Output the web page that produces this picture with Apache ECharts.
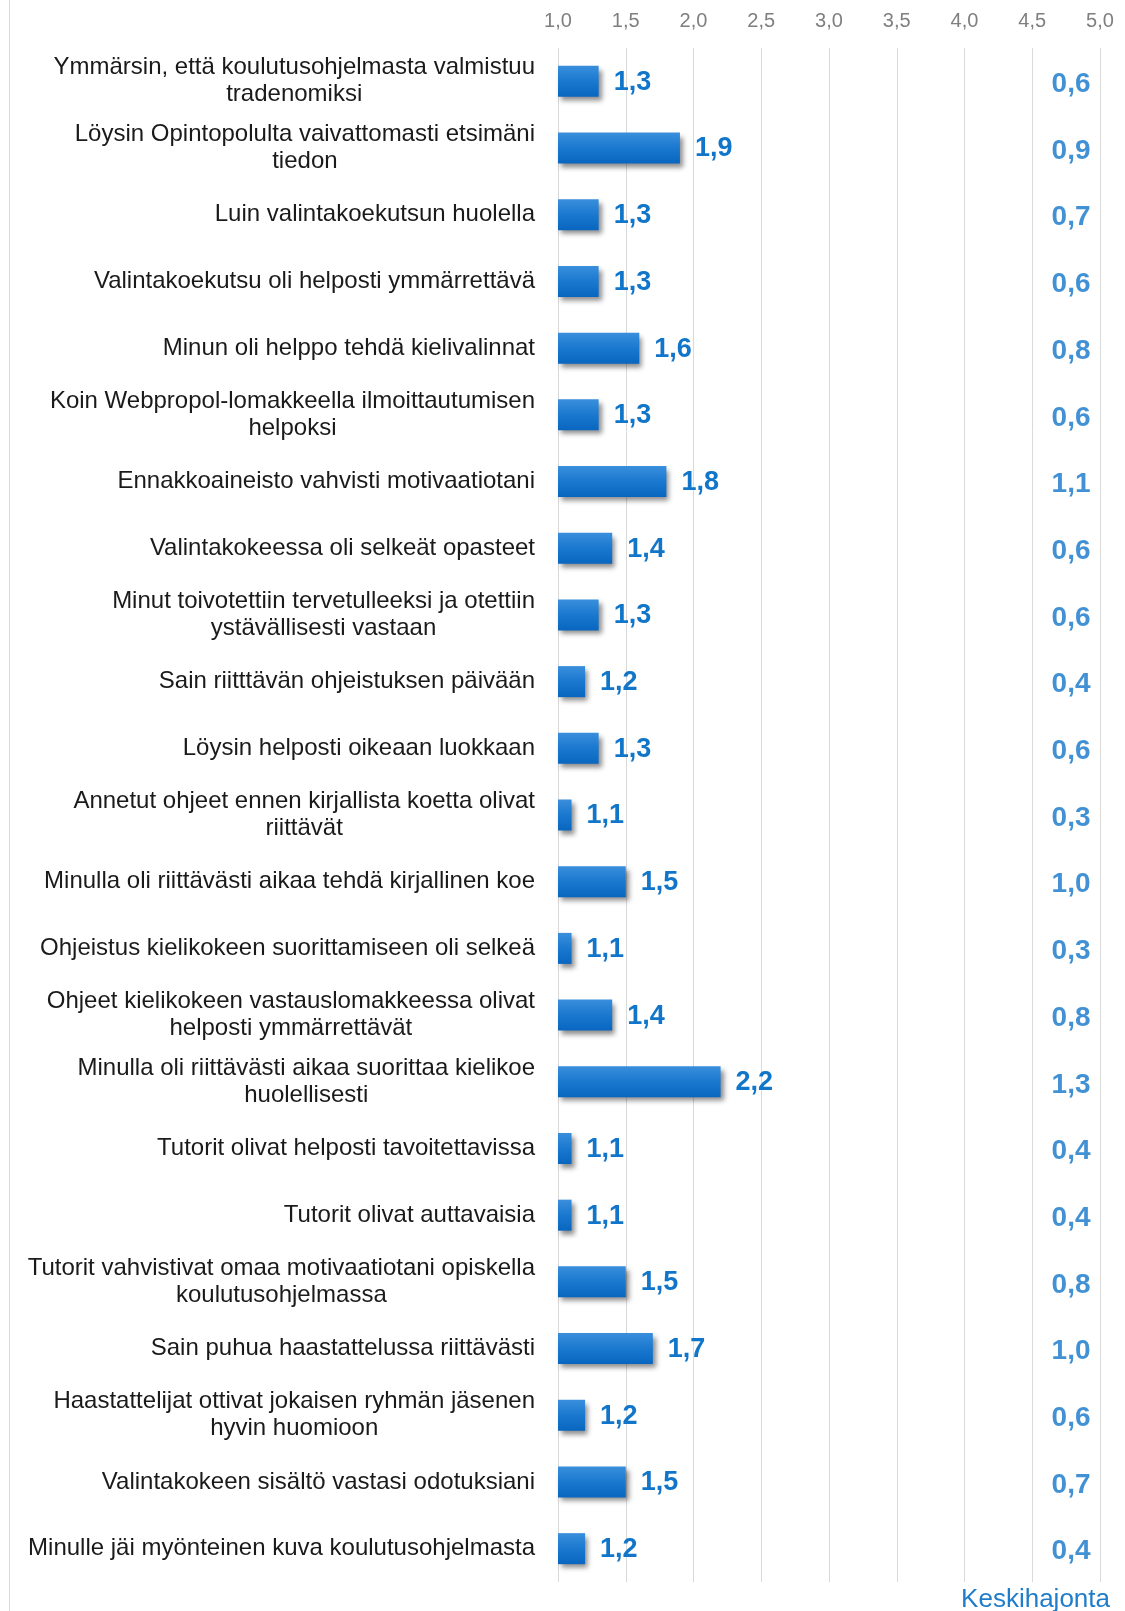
<!DOCTYPE html>
<html>
<head>
<meta charset="utf-8">
<script src="https://cdn.jsdelivr.net/npm/echarts@6/dist/echarts.min.js"></script>
<style>
  html, body { margin: 0; padding: 0; background: #fff; }
  #chart { width: 1125px; height: 1611px; }
</style>
</head>
<body>
<div id="chart"></div>
<script>
// Statements (one per row, top to bottom)
const categories = [
  'Ymmärsin, että koulutusohjelmasta valmistuu\ntradenomiksi',
  'Löysin Opintopolulta vaivattomasti etsimäni\ntiedon',
  'Luin valintakoekutsun huolella',
  'Valintakoekutsu oli helposti ymmärrettävä',
  'Minun oli helppo tehdä kielivalinnat',
  'Koin Webpropol-lomakkeella ilmoittautumisen\nhelpoksi',
  'Ennakkoaineisto vahvisti motivaatiotani',
  'Valintakokeessa oli selkeät opasteet',
  'Minut toivotettiin tervetulleeksi ja otettiin\nystävällisesti vastaan',
  'Sain riitttävän ohjeistuksen päivään',
  'Löysin helposti oikeaan luokkaan',
  'Annetut ohjeet ennen kirjallista koetta olivat\nriittävät',
  'Minulla oli riittävästi aikaa tehdä kirjallinen koe',
  'Ohjeistus kielikokeen suorittamiseen oli selkeä',
  'Ohjeet kielikokeen vastauslomakkeessa olivat\nhelposti ymmärrettävät',
  'Minulla oli riittävästi aikaa suorittaa kielikoe\nhuolellisesti',
  'Tutorit olivat helposti tavoitettavissa',
  'Tutorit olivat auttavaisia',
  'Tutorit vahvistivat omaa motivaatiotani opiskella\nkoulutusohjelmassa',
  'Sain puhua haastattelussa riittävästi',
  'Haastattelijat ottivat jokaisen ryhmän jäsenen\nhyvin huomioon',
  'Valintakokeen sisältö vastasi odotuksiani',
  'Minulle jäi myönteinen kuva koulutusohjelmasta'
];

// Mean score per statement
const means = [1.3, 1.9, 1.3, 1.3, 1.6, 1.3, 1.8, 1.4, 1.3, 1.2, 1.3, 1.1,
               1.5, 1.1, 1.4, 2.2, 1.1, 1.1, 1.5, 1.7, 1.2, 1.5, 1.2];

// Standard deviation per statement
const stdDevs = [0.6, 0.9, 0.7, 0.6, 0.8, 0.6, 1.1, 0.6, 0.6, 0.4, 0.6, 0.3,
                 1.0, 0.3, 0.8, 1.3, 0.4, 0.4, 0.8, 1.0, 0.6, 0.7, 0.4];

// Scale settings
const scaleMin = 1.0;
const scaleMax = 5.0;
const scaleStep = 0.5;

const stdColumnTitle = 'Keskihajonta';

const FONT = '"Liberation Sans", Arial, sans-serif';
const BLUE = '#1176c9';
const fmt = v => Number(v).toFixed(1).replace('.', ',');

const chart = echarts.init(document.getElementById('chart'), null, { renderer: 'canvas' });

chart.setOption({
  backgroundColor: '#ffffff',
  animation: false,
  grid: { left: 558, right: 25, top: 48, bottom: 29, containLabel: false },
  xAxis: {
    type: 'value',
    position: 'top',
    min: scaleMin,
    max: scaleMax,
    interval: scaleStep,
    axisLine: { show: false },
    axisTick: { show: false },
    axisLabel: {
      margin: 17,
      fontFamily: FONT,
      fontSize: 20,
      color: '#7f7f7f',
      formatter: v => fmt(v)
    },
    splitLine: { show: true, lineStyle: { color: '#d9d9d9', width: 1 } }
  },
  yAxis: {
    type: 'category',
    inverse: true,
    data: categories,
    axisLine: { show: false },
    axisTick: { show: false },
    axisLabel: {
      margin: 23,
      align: 'right',
      fontFamily: FONT,
      fontSize: 24,
      lineHeight: 27,
      color: '#1a1a1a',
      formatter: v => v.split('\n').map(l => '{c|' + l + '}').join('\n'),
      rich: {
        c: { align: 'center', fontFamily: FONT, fontSize: 24, lineHeight: 27, color: '#1a1a1a' }
      }
    }
  },
  series: [
    {
      name: 'Keskiarvo',
      type: 'bar',
      data: means,
      barWidth: 31,
      clip: true,
      itemStyle: {
        color: new echarts.graphic.LinearGradient(0, 0, 0, 1, [
          { offset: 0, color: '#3a8fdc' },
          { offset: 0.5, color: '#1a78cf' },
          { offset: 1, color: '#0866c0' }
        ]),
        shadowColor: 'rgba(0,0,0,0.45)',
        shadowBlur: 5,
        shadowOffsetX: 3,
        shadowOffsetY: 4
      },
      label: {
        show: true,
        position: 'right',
        distance: 15,
        offset: [0, 1],
        fontFamily: FONT,
        fontSize: 27,
        fontWeight: 'bold',
        color: BLUE,
        formatter: p => fmt(p.value)
      }
    },
    {
      name: stdColumnTitle,
      type: 'scatter',
      data: stdDevs.map((s, i) => [scaleMax, i, s]),
      encode: { x: 0, y: 1 },
      symbolSize: 1,
      itemStyle: { color: 'rgba(0,0,0,0)' },
      label: {
        show: true,
        position: 'left',
        distance: 9,
        offset: [0, 3],
        fontFamily: FONT,
        fontSize: 28,
        fontWeight: 'bold',
        color: BLUE,
        formatter: p => fmt(p.value[2])
      }
    }
  ],
  graphic: [
    {
      type: 'line',
      shape: { x1: 9.5, y1: 0, x2: 9.5, y2: 1611 },
      style: { stroke: '#d9d9d9', lineWidth: 1 }
    },
    {
      type: 'text',
      right: 15,
      top: 1587,
      style: {
        text: stdColumnTitle,
        fontFamily: FONT,
        fontSize: 26,
        fill: '#1f7dc9'
      }
    }
  ]
});
</script>
</body>
</html>
